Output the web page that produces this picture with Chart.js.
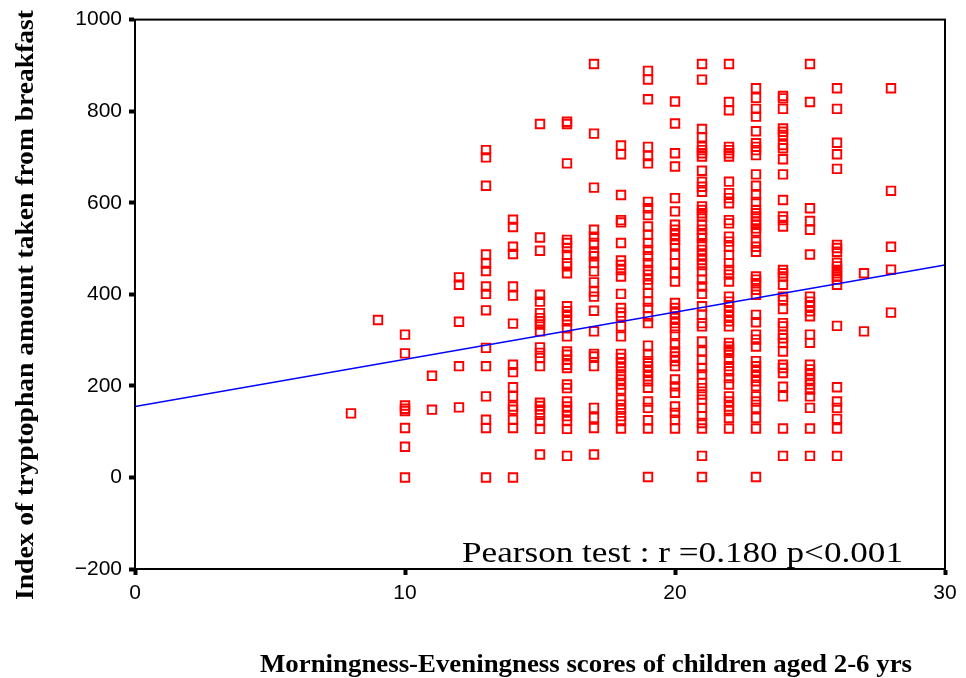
<!DOCTYPE html>
<html>
<head>
<meta charset="utf-8">
<script src="https://cdn.jsdelivr.net/npm/chart.js@4/dist/chart.umd.min.js"></script>
<style>
  html, body { margin: 0; padding: 0; background: #fff; }
  #wrap { width: 966px; height: 678px; }
</style>
</head>
<body>
<div id="wrap"><canvas id="scatterChart" width="966" height="678"></canvas></div>
<script>
// Morningness-Eveningness score (x) and the tryptophan index values seen at each score
var scores = [8, 9, 10, 11, 12, 13, 14, 15, 16, 17, 18, 19, 20, 21, 22, 23, 24, 25, 26, 27, 28];
var tryptophanByScore = [
    [140],
    [344],
    [312, 271, 157, 150, 145, 108, 67, 0],
    [222, 148],
    [437, 421, 340, 243, 153],
    [715, 699, 637, 487, 467, 451, 417, 401, 365, 283, 243, 177, 126, 108, 0],
    [563, 547, 504, 488, 417, 397, 336, 246, 230, 197, 177, 155, 148, 126, 108, 0],
    [772, 524, 495, 399, 384, 359, 348, 341, 334, 319, 284, 272, 261, 243, 163, 156, 148, 137, 123, 106, 50],
    [777, 772, 686, 519, 512, 501, 486, 468, 461, 446, 374, 363, 352, 341, 326, 308, 275, 268, 257, 246, 239, 203, 195, 166, 155, 145, 134, 123, 106, 47],
    [903, 751, 633, 541, 526, 512, 490, 483, 468, 450, 426, 406, 395, 364, 319, 270, 264, 243, 152, 130, 108, 50],
    [725, 706, 617, 562, 557, 512, 474, 464, 453, 439, 401, 370, 360, 352, 330, 308, 270, 261, 250, 239, 225, 214, 203, 192, 170, 159, 148, 134, 123, 107],
    [888, 869, 826, 722, 702, 686, 602, 588, 573, 548, 530, 512, 497, 483, 468, 453, 443, 432, 421, 403, 384, 370, 352, 337, 288, 268, 254, 243, 232, 221, 210, 196, 166, 152, 125, 107, 1],
    [821, 773, 708, 679, 610, 581, 552, 541, 530, 519, 508, 486, 468, 446, 428, 381, 370, 359, 348, 337, 326, 312, 290, 275, 264, 254, 243, 214, 199, 185, 155, 141, 126, 107],
    [903, 869, 761, 743, 722, 715, 708, 701, 670, 646, 635, 624, 592, 584, 577, 570, 552, 541, 530, 523, 508, 497, 486, 475, 464, 450, 432, 417, 401, 374, 355, 337, 330, 297, 275, 257, 239, 225, 206, 195, 181, 170, 152, 134, 119, 107, 47, 1],
    [903, 820, 802, 722, 715, 708, 701, 646, 621, 610, 599, 562, 555, 526, 515, 504, 486, 468, 453, 443, 428, 395, 384, 374, 363, 352, 341, 330, 294, 286, 279, 272, 257, 243, 232, 217, 203, 177, 166, 155, 145, 130, 107],
    [850, 829, 805, 788, 756, 730, 722, 715, 704, 662, 637, 617, 602, 584, 577, 570, 559, 552, 544, 537, 515, 504, 493, 439, 432, 424, 410, 399, 355, 339, 312, 301, 286, 254, 243, 232, 221, 210, 199, 177, 166, 152, 130, 107, 1],
    [833, 828, 805, 762, 755, 748, 726, 719, 695, 662, 606, 570, 562, 548, 453, 446, 439, 421, 395, 388, 368, 337, 330, 312, 304, 294, 275, 246, 239, 228, 198, 177, 107, 47],
    [903, 820, 588, 560, 541, 487, 395, 384, 374, 363, 352, 312, 294, 246, 236, 225, 214, 203, 192, 177, 152, 107, 47],
    [850, 805, 731, 706, 674, 508, 501, 493, 469, 461, 453, 446, 439, 432, 421, 331, 197, 166, 152, 128, 107, 47],
    [446, 319],
    [850, 626, 504, 454, 360]
];

// fitted regression line end points
var fitX = [0, 30];
var fitY = [155, 464];

var xTitle = 'Morningness-Eveningness scores of children aged 2-6 yrs';
var yTitle = 'Index of tryptophan amount taken from breakfast';
var pearsonNote = 'Pearson test : r =0.180 p<0.001';

var points = [];
scores.forEach(function (s, i) {
    tryptophanByScore[i].forEach(function (v) {
        points.push({ x: s, y: v });
    });
});
var fitLine = fitX.map(function (x, i) { return { x: x, y: fitY[i] }; });

// draw text squeezed/stretched to a given width
function fittedText(ctx, text, font, x, y, width, rotate, align) {
    ctx.save();
    ctx.font = font;
    var w = ctx.measureText(text).width;
    ctx.translate(x, y);
    if (rotate) ctx.rotate(rotate);
    ctx.scale(width / w, 1);
    ctx.textAlign = align || 'center';
    ctx.textBaseline = 'alphabetic';
    ctx.fillStyle = '#000';
    ctx.fillText(text, 0, 0);
    ctx.restore();
}

var framePlugin = {
    id: 'frameAndText',
    afterDraw: function (chart) {
        var ctx = chart.ctx;
        var a = chart.chartArea;
        ctx.save();
        ctx.strokeStyle = '#000';
        ctx.lineWidth = 2;
        ctx.strokeRect(a.left, a.top, a.right - a.left, a.bottom - a.top);
        ctx.restore();

        fittedText(ctx, pearsonNote, '30px "Liberation Serif", "Times New Roman", serif', 462, 562, 441, 0, 'left');
        fittedText(ctx, xTitle, 'bold 25px "Liberation Serif", "Times New Roman", serif', 586, 672, 652, 0, 'center');
        fittedText(ctx, yTitle, 'bold 26px "Liberation Serif", "Times New Roman", serif', 33, 305, 590, -Math.PI / 2, 'center');
    }
};

var tickFont = { family: '"Liberation Sans", Arial, sans-serif', size: 21 };

var ctx = document.getElementById('scatterChart').getContext('2d');
var chart = new Chart(ctx, {
    type: 'scatter',
    data: {
        datasets: [{
            type: 'line',
            label: 'fit',
            data: fitLine,
            borderColor: '#0000ff',
            borderWidth: 1.6,
            pointRadius: 0,
            fill: false,
            tension: 0
        }, {
            label: 'children',
            data: points,
            pointStyle: 'rect',
            pointRadius: 6,
            pointBorderWidth: 1.9,
            borderColor: '#ff0000',
            backgroundColor: 'rgba(0,0,0,0)',
            pointBackgroundColor: 'rgba(0,0,0,0)'
        }]
    },
    options: {
        responsive: false,
        animation: false,
        layout: { padding: { left: 0, right: 21, top: 19, bottom: 0 } },
        plugins: {
            legend: { display: false },
            tooltip: { enabled: false }
        },
        scales: {
            x: {
                type: 'linear',
                min: 0,
                max: 30,
                afterFit: function (scale) { scale.height = 109; },
                ticks: {
                    stepSize: 10,
                    padding: 6,
                    color: '#000',
                    font: tickFont
                },
                grid: {
                    drawOnChartArea: false,
                    tickLength: 6,
                    tickWidth: 4,
                    tickColor: '#000'
                },
                border: { display: true, color: '#000', width: 2 }
            },
            y: {
                min: -200,
                max: 1000,
                afterFit: function (scale) { scale.width = 135; },
                ticks: {
                    stepSize: 200,
                    padding: 7,
                    color: '#000',
                    font: tickFont,
                    callback: function (v) { return String(v).replace('-', '\u2212'); }
                },
                grid: {
                    drawOnChartArea: false,
                    tickLength: 6,
                    tickWidth: 4,
                    tickColor: '#000'
                },
                border: { display: true, color: '#000', width: 2 }
            }
        }
    },
    plugins: [framePlugin]
});
</script>
</body>
</html>
